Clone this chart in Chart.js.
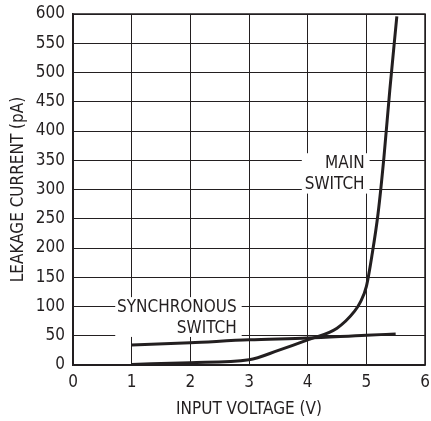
<!DOCTYPE html>
<html>
<head>
<meta charset="utf-8">
<script src="https://cdn.jsdelivr.net/npm/chart.js@4/dist/chart.umd.min.js"></script>
<style>
  html, body { margin: 0; padding: 0; background: #fff; }
  #wrap { width: 431px; height: 421px; }
</style>
</head>
<body>
<div id="wrap"><canvas id="leakChart"></canvas></div>
<script>
// values
const mainVolts = [1, 2, 3, 3.5, 4, 4.5, 4.8, 4.9, 5.0, 5.1, 5.2, 5.3, 5.4, 5.52];
const mainLeak = [1, 4, 9, 25, 43, 63, 92, 108, 134, 190, 259, 355, 470, 596];
const syncVolts = [1, 2, 3, 4, 5, 5.5];
const syncLeak = [34, 38, 43, 46, 51, 53];
const xTicks = [0, 1, 2, 3, 4, 5, 6];
const yTicks = [0, 50, 100, 150, 200, 250, 300, 350, 400, 450, 500, 550, 600];

const FONT = "'Liberation Sans Narrow', 'DejaVu Sans Condensed', sans-serif";
const INK = '#231f20';

// curve labels with white boxes over the grid
const curveLabels = {
    id: 'curveLabels',
    afterDatasetsDraw(chart) {
        const { ctx, scales: { x, y } } = chart;
        const boxes = [
            { lines: ['MAIN', 'SWITCH'], x: 4.97, y: 362, x0: 3.9, y1: 293 },
            { lines: ['SYNCHRONOUS', 'SWITCH'], x: 2.79, y: 116, x0: 0.72, y1: 48 }
        ];
        ctx.save();
        ctx.font = '17px ' + FONT;
        ctx.textAlign = 'right';
        ctx.textBaseline = 'middle';
        boxes.forEach(b => {
            const right = x.getPixelForValue(b.x);
            const top = y.getPixelForValue(b.y);
            const left = x.getPixelForValue(b.x0);
            const bottom = y.getPixelForValue(b.y1);
            ctx.fillStyle = '#fff';
            ctx.fillRect(left, top, right - left + 5, bottom - top);
            ctx.fillStyle = INK;
            b.lines.forEach((t, i) => {
                ctx.fillText(t, right, top + 10 + i * 21);
            });
        });
        ctx.restore();
    }
};

new Chart(document.getElementById('leakChart'), {
    type: 'line',
    data: {
        datasets: [
            {
                label: 'Main switch',
                data: mainVolts.map((v, i) => ({ x: v, y: mainLeak[i] })),
                borderColor: INK,
                borderWidth: 3,
                pointRadius: 0,
                cubicInterpolationMode: 'monotone'
            },
            {
                label: 'Synchronous switch',
                data: syncVolts.map((v, i) => ({ x: v, y: syncLeak[i] })),
                borderColor: INK,
                borderWidth: 3,
                pointRadius: 0,
                cubicInterpolationMode: 'monotone'
            }
        ]
    },
    options: {
        responsive: true,
        maintainAspectRatio: false,
        animation: false,
        layout: { padding: { top: 14, right: 6, bottom: 0, left: 0 } },
        plugins: { legend: { display: false }, tooltip: { enabled: false } },
        scales: {
            x: {
                type: 'linear',
                min: 0,
                max: 6,
                afterBuildTicks: axis => { axis.ticks = xTicks.map(v => ({ value: v })); },
                afterFit: axis => { axis.height = 56; },
                grid: { color: INK, lineWidth: 1, drawTicks: false },
                border: { color: INK, width: 1.5 },
                // tall line height pushes the labels down without adding side padding
                ticks: { color: INK, font: { family: FONT, size: 17, lineHeight: 2.1 }, padding: 0, maxRotation: 0 },
                title: {
                    display: true,
                    text: 'INPUT VOLTAGE (V)',
                    color: INK,
                    font: { family: FONT, size: 17 },
                    padding: { top: 0, bottom: 1 }
                }
            },
            y: {
                type: 'linear',
                min: 0,
                max: 600,
                afterBuildTicks: axis => { axis.ticks = yTicks.map(v => ({ value: v })); },
                afterFit: axis => { axis.width = 73; },
                grid: { color: INK, lineWidth: 1, drawTicks: false },
                border: { color: INK, width: 1.5 },
                ticks: { color: INK, font: { family: FONT, size: 17, lineHeight: 0.6 }, padding: 8 },
                title: {
                    display: true,
                    text: 'LEAKAGE CURRENT (pA)',
                    color: INK,
                    font: { family: FONT, size: 17 },
                    padding: { top: 8, bottom: 0 }
                }
            }
        }
    },
    plugins: [curveLabels, {
        id: 'frame',
        afterDraw(chart) {
            const { ctx, chartArea: a } = chart;
            ctx.save();
            ctx.strokeStyle = INK;
            ctx.lineWidth = 1.5;
            ctx.strokeRect(a.left, a.top, a.right - a.left, a.bottom - a.top);
            ctx.restore();
        }
    }]
});
</script>
</body>
</html>
